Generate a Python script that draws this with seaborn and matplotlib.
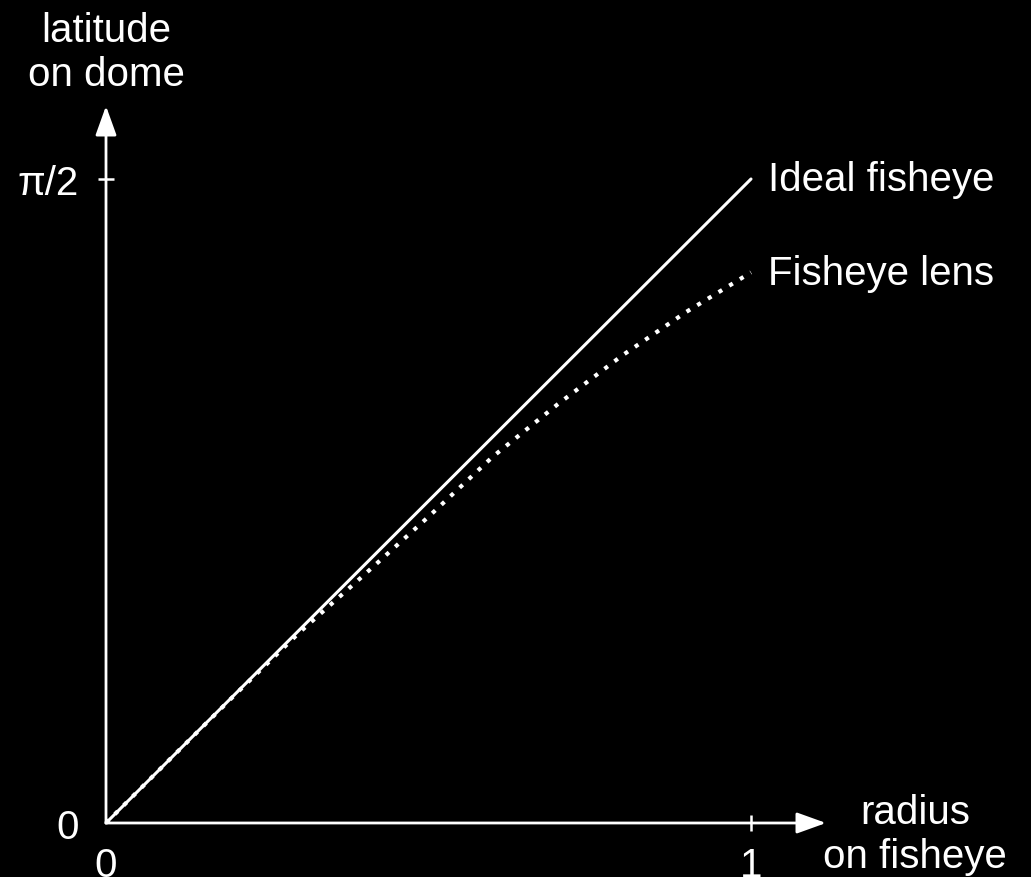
import numpy as np
import pandas as pd
import matplotlib
matplotlib.use("Agg")
import matplotlib.pyplot as plt
import seaborn as sns

# ---- data ----
radius = [0.0, 0.1, 0.2, 0.3, 0.4, 0.5, 0.6, 0.7, 0.8, 0.9, 1.0]
ideal_radius = [0.0, 1.0]
ideal_latitude = [0.0, 1.5708]
lens_latitude = [0.0, 0.157, 0.313, 0.465, 0.605, 0.747, 0.894, 1.021, 1.140, 1.247, 1.343]
series_labels = ["Ideal fisheye", "Fisheye lens"]
x_ticks = [0.0, 1.0]
x_tick_labels = ["0", "1"]
y_ticks = [0.0, np.pi / 2]
y_tick_labels = ["0", "π/2"]
x_title = "radius\non fisheye"
y_title = "latitude\non dome"

sns.set_style("dark", rc={"axes.facecolor": "black", "figure.facecolor": "black"})
plt.rcParams["font.family"] = ["Liberation Sans", "DejaVu Sans"]

FS = 29
W, H = 1031, 878
fig = plt.figure(figsize=(W / 100, H / 100), dpi=100)
x0, y0 = 106, 824
x_end, y_top = 826, 107
ax = fig.add_axes([x0 / W, (H - y0) / H, (x_end - x0) / W, (y0 - y_top) / H])
ax.set_facecolor("black")

xmax = (x_end - x0) / 645.0
ymax = (y0 - y_top) / 644.0 * (np.pi / 2)
ax.set_xlim(0, xmax)
ax.set_ylim(0, ymax)

ideal_df = pd.DataFrame({"radius": ideal_radius, "latitude": ideal_latitude})
lens_df = pd.DataFrame({"radius": radius, "latitude": lens_latitude})

sns.lineplot(data=ideal_df, x="radius", y="latitude", ax=ax, color="white",
             linewidth=2.2, clip_on=False)
sns.lineplot(data=lens_df, x="radius", y="latitude", ax=ax, color="white",
             linewidth=3.0, linestyle=(0, (1.0, 2.0)), clip_on=False)

for sp in ax.spines.values():
    sp.set_visible(False)
ax.grid(False)

# axes with arrows
arrow_kw = dict(arrowstyle="-|>,head_length=1.0,head_width=0.36", color="white",
                lw=2.0, shrinkA=0, shrinkB=0, mutation_scale=18)
ax.annotate("", xy=(xmax, 0), xytext=(0, 0), arrowprops=arrow_kw, annotation_clip=False)
ax.annotate("", xy=(0, ymax), xytext=(0, 0), arrowprops=arrow_kw, annotation_clip=False)

ax.set_xticks(x_ticks)
ax.set_xticklabels(x_tick_labels)
ax.set_yticks(y_ticks)
ax.set_yticklabels(y_tick_labels)
ax.tick_params(bottom=True, left=True, direction="inout", length=11.5, width=1.8,
               color="white", labelcolor="white", labelsize=FS)
ax.tick_params(axis="x", pad=10.5)
ax.tick_params(axis="y", pad=14.0)
ax.xaxis.get_major_ticks()[0].tick1line.set_visible(False)
ax.yaxis.get_major_ticks()[0].tick1line.set_visible(False)
ax.set_xlabel("")
ax.set_ylabel("")

# series labels at line ends
ax.annotate(series_labels[0], xy=(ideal_radius[-1], ideal_latitude[-1]),
            xytext=(12, -8), textcoords="offset points", color="white",
            fontsize=FS, ha="left", va="baseline", annotation_clip=False)
ax.annotate(series_labels[1], xy=(radius[-1], lens_latitude[-1]),
            xytext=(12, -8.5), textcoords="offset points", color="white",
            fontsize=FS, ha="left", va="baseline", annotation_clip=False)

# axis titles
ax.annotate(y_title, xy=(0, ymax), xytext=(0, 9), textcoords="offset points",
            color="white", fontsize=FS, ha="center", va="bottom",
            multialignment="center", linespacing=1.2, annotation_clip=False)
ax.annotate(x_title, xy=((915 - x0) / 645.0, 0), xytext=(0, -31.5), textcoords="offset points",
            color="white", fontsize=FS, ha="center", va="baseline",
            multialignment="center", linespacing=1.2, annotation_clip=False)

fig.savefig("out.png", dpi=100, facecolor="black")
